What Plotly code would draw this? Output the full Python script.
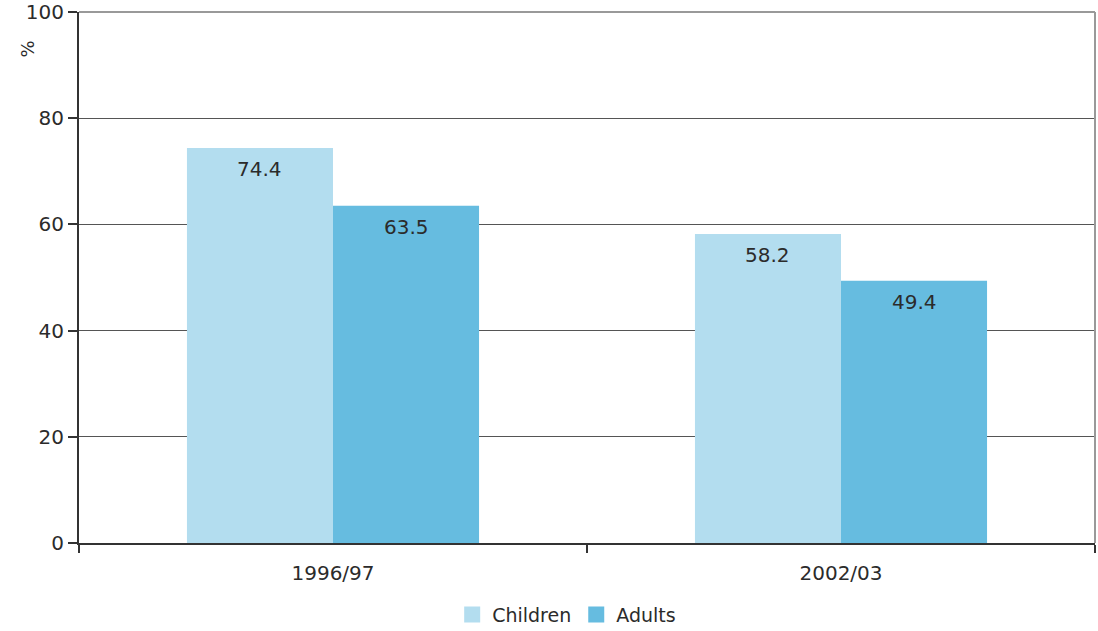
import plotly.graph_objects as go

categories = ["1996/97", "2002/03"]
children = [74.4, 58.2]
adults = [63.5, 49.4]
y_ticks = [0, 20, 40, 60, 80, 100]

FONT = "DejaVu Sans, Verdana, sans-serif"
TXT = "#2b2b2b"
C_CHILD = "#b3ddef"
C_ADULT = "#66bce0"
BARGAP = 0.425

fig = go.Figure()
fig.add_trace(go.Bar(name="Children", x=categories, y=children, showlegend=False,
                     marker=dict(color=C_CHILD, line=dict(width=0))))
fig.add_trace(go.Bar(name="Adults", x=categories, y=adults, showlegend=False,
                     marker=dict(color=C_ADULT, line=dict(width=0))))
# legend entries with larger square swatches
for name, col in [("Children", C_CHILD), ("Adults", C_ADULT)]:
    fig.add_trace(go.Scatter(name=name, x=[None], y=[None], mode="markers",
                             marker=dict(symbol="square", size=22, color=col)))

# value labels just inside the top of each bar
off = (1 - BARGAP) / 4
annotations = []
for i, v in enumerate(children):
    annotations.append(dict(x=i - off, y=v, xref="x", yref="y", text=f"{v:.1f}", showarrow=False,
                            yshift=-21, font=dict(size=20, color=TXT)))
for i, v in enumerate(adults):
    annotations.append(dict(x=i + off, y=v, xref="x", yref="y", text=f"{v:.1f}", showarrow=False,
                            yshift=-21, font=dict(size=20, color=TXT)))
annotations.append(dict(text="%", xref="paper", yref="paper", x=-0.063, y=0.95,
                        showarrow=False, textangle=-90, font=dict(size=18, color=TXT)))

fig.update_layout(
    width=1098, height=631,
    margin=dict(l=79, r=3, t=12, b=88, autoexpand=False),
    paper_bgcolor="white", plot_bgcolor="white",
    barmode="group", bargap=BARGAP, bargroupgap=0,
    font=dict(family=FONT, size=20, color=TXT),
    showlegend=True,
    legend=dict(orientation="h", x=0.48, xanchor="center", y=-0.099, yanchor="top",
                font=dict(size=19, color=TXT), traceorder="normal", itemwidth=30),
    xaxis=dict(showgrid=False, showline=True, linecolor="#333", linewidth=2, automargin=False,
               ticks="outside", tickson="boundaries", ticklen=8, tickwidth=2, tickcolor="#333",
               tickfont=dict(size=20, color=TXT), ticklabelstandoff=11),
    yaxis=dict(range=[0, 100], tickvals=y_ticks, showgrid=True, gridcolor="#555", gridwidth=1,
               showline=True, linecolor="#333", linewidth=2, ticks="outside", ticklen=9,
               tickwidth=2, tickcolor="#333", tickfont=dict(size=20, color=TXT),
               zeroline=False, automargin=False),
    shapes=[
        dict(type="line", xref="paper", yref="paper", x0=0, x1=1, y0=1, y1=1,
             line=dict(color="#999", width=2)),
        dict(type="line", xref="paper", yref="paper", x0=1, x1=1, y0=0, y1=1,
             line=dict(color="#999", width=2)),
    ],
    annotations=annotations,
)

fig.write_html("out.html", config={"displayModeBar": False},
               post_script="document.body.style.margin='0';document.body.style.overflow='hidden';")
